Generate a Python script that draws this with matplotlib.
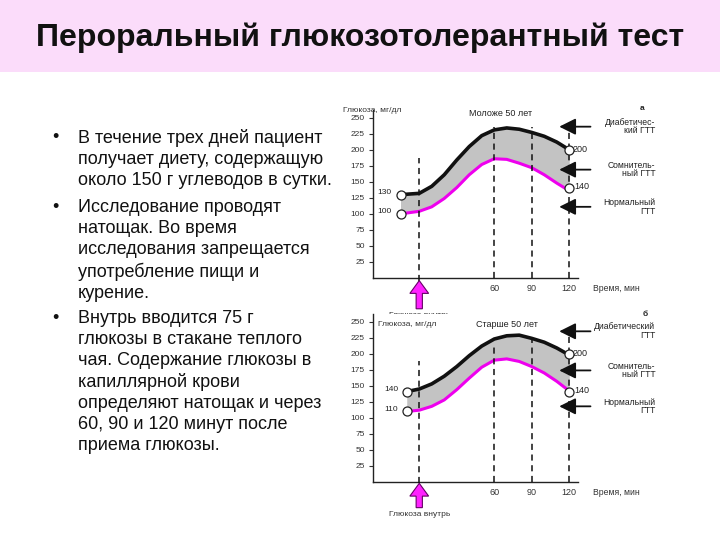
import matplotlib
matplotlib.use("Agg")
import matplotlib.pyplot as plt
from matplotlib.patches import FancyArrow, Rectangle

plt.rcParams['font.family'] = ['Liberation Sans', 'DejaVu Sans']

# ---------------- data ----------------
title = "Пероральный глюкозотолерантный тест"
bullets = [
    "В течение трех дней пациент\nполучает диету, содержащую\nоколо 150 г углеводов в сутки.",
    "Исследование проводят\nнатощак. Во время\nисследования запрещается\nупотребление пищи и\nкурение.",
    "Внутрь вводится 75 г\nглюкозы в стакане теплого\nчая. Содержание глюкозы в\nкапиллярной крови\nопределяют натощак и через\n60, 90 и 120 минут после\nприема глюкозы.",
]

y_ticks = [25, 50, 75, 100, 125, 150, 175, 200, 225, 250]
x_ticks = [60, 90, 120]
x_label = "Время, мин"
y_label = "Глюкоза, мг/дл"
arrow_label = "Глюкоза внутрь"
zone_labels_1 = ["Диабетичес-\nкий ГТТ", "Сомнитель-\nный ГТТ", "Нормальный\nГТТ"]
zone_labels_2 = ["Диабетический\nГТТ", "Сомнитель-\nный ГТТ", "Нормальный\nГТТ"]

# chart 1: younger than 50
title_1 = "Моложе 50 лет"
t1 = [-15, 0, 10, 20, 30, 40, 50, 60, 70, 80, 90, 100, 110, 120]
upper_1 = [130, 132, 143, 161, 184, 205, 222, 231, 234, 232, 227, 221, 212, 200]
lower_1 = [100, 104, 111, 124, 141, 161, 177, 186, 185, 179, 172, 161, 148, 136]
marks_1 = {"start_hi": 130, "start_lo": 100, "end_hi": 200, "end_lo": 140}
zone_y_1 = [236, 169, 111]

# chart 2: older than 50
title_2 = "Старше 50 лет"
t2 = [-10, 0, 10, 20, 30, 40, 50, 60, 70, 80, 90, 100, 110, 120]
upper_2 = [141, 145, 153, 165, 180, 197, 212, 223, 228, 229, 224, 218, 209, 198]
lower_2 = [110, 112, 118, 128, 144, 162, 179, 190, 192, 188, 180, 170, 157, 142]
marks_2 = {"start_hi": 140, "start_lo": 110, "end_hi": 200, "end_lo": 140}
zone_y_2 = [235, 174, 118]

# ---------------- figure ----------------
W, H = 720, 540
fig = plt.figure(figsize=(7.2, 5.4), dpi=100)
fig.patch.set_facecolor("white")

# title band
band = fig.add_axes([0, 1 - 72 / H, 1, 72 / H])
band.set_xlim(0, 1); band.set_ylim(0, 1)
band.add_patch(Rectangle((0, 0), 1, 1, color="#fbdcfa"))
band.axis("off")
band.text(0.5, 0.47, title, ha="center", va="center", fontsize=23,
          fontweight="bold", color="#111111")

# bullets
para_tops = [129, 199, 310]
for txt, top in zip(bullets, para_tops):
    fig.text(52 / W, 1 - top / H, "•", fontsize=13, va="top", ha="left", color="#111111")
    fig.text(78 / W, 1 - top / H, txt, fontsize=13, va="top", ha="left",
             linespacing=1.31, color="#111111")


def px2fig(left, top, right, bottom):
    return [left / W, 1 - bottom / H, (right - left) / W, (bottom - top) / H]


def draw_chart(rect, t, upper, lower, marks, zone_labels, zone_y, ctitle,
               title_xy, ylab_xy, ylab_ha, letter, letter_xy, arrow_top, arrow_bot,
               vtops, label_y):
    ax = fig.add_axes(rect)
    ax.set_facecolor("white")
    ax.set_xlim(-37, 127)
    ax.set_ylim(0, 262)
    for s in ("top", "right"):
        ax.spines[s].set_visible(False)
    for s in ("left", "bottom"):
        ax.spines[s].set_linewidth(1.0)
        ax.spines[s].set_color("#222222")
    ax.set_yticks(y_ticks)
    ax.set_yticklabels([str(v) for v in y_ticks], fontsize=6, color="#333333")
    ax.tick_params(axis="y", length=3, width=0.8, pad=3, color="#333333")
    ax.set_xticks(x_ticks)
    ax.set_xticklabels([str(v) for v in x_ticks], fontsize=6.5, color="#333333")
    ax.tick_params(axis="x", length=0, pad=4)

    # band and curves
    ax.fill_between(t, lower, upper, color="#c3c3c3", lw=0, zorder=1)
    ax.plot(t, upper, color="#111111", lw=2.6, zorder=3, solid_capstyle="round")
    ax.plot(t, lower, color="#ee00ee", lw=2.2, zorder=3, solid_capstyle="round")

    # dashed verticals
    for xv, top in zip([0] + x_ticks, vtops):
        bot = arrow_top if xv == 0 else 0
        ax.plot([xv, xv], [bot, top], color="#111111", lw=1.1, ls=(0, (4, 3)),
                zorder=4, clip_on=False)

    # end markers
    ax.plot([t[0], t[0], t[-1], t[-1]],
            [marks["start_hi"], marks["start_lo"], marks["end_hi"], marks["end_lo"]],
            ls="none", marker="o", ms=6.5, mfc="white", mec="#222222", mew=0.9,
            zorder=5, clip_on=False)
    ax.text(t[0] - 7, marks["start_hi"] + 4, str(marks["start_hi"]), fontsize=6,
            ha="right", va="center", color="#222222")
    ax.text(t[0] - 7, marks["start_lo"] + 3, str(marks["start_lo"]), fontsize=6,
            ha="right", va="center", color="#222222")
    ax.text(t[-1] + 3, marks["end_hi"] + 1, str(marks["end_hi"]), fontsize=6.5,
            ha="left", va="center", color="#222222")
    ax.text(t[-1] + 4, marks["end_lo"] + 2, str(marks["end_lo"]), fontsize=6.5,
            ha="left", va="center", color="#222222")

    # zone arrows and labels
    for lab, yv in zip(zone_labels, zone_y):
        ax.annotate("", xy=(112, yv), xytext=(137, yv), annotation_clip=False,
                    arrowprops=dict(arrowstyle="-|>,head_length=1.0,head_width=0.5",
                                    color="#111111", lw=1.3, shrinkA=0, shrinkB=0))
        ax.text(189, yv, lab, fontsize=6.2, ha="right", va="center",
                linespacing=0.95, color="#222222", multialignment="right")

    ax.text(139, label_y, x_label, fontsize=6.2, ha="left", va="center", color="#333333")
    ax.text(title_xy[0], title_xy[1], ctitle, fontsize=6.5, ha="center", va="center",
            color="#222222")
    ax.text(ylab_xy[0], ylab_xy[1], y_label, fontsize=6, ha=ylab_ha, va="center",
            color="#333333")
    ax.text(letter_xy[0], letter_xy[1], letter, fontsize=6, ha="center", va="center",
            fontweight="bold", color="#222222")

    # glucose arrow
    ax.add_patch(FancyArrow(0, arrow_bot, 0, arrow_top - arrow_bot, width=5,
                            head_width=15, head_length=20, length_includes_head=True,
                            facecolor="#ff22ff", edgecolor="#660066", lw=0.8,
                            clip_on=False, zorder=6))
    ax.text(0, arrow_bot - 10, arrow_label, fontsize=6, ha="center", va="center",
            color="#333333", zorder=0)
    return ax


ax1 = draw_chart(px2fig(373, 110, 578, 278), t1, upper_1, lower_1, marks_1,
                 zone_labels_1, zone_y_1, title_1, (65, 256), (-61, 262), "left",
                 "а", (178, 264), -4, -48, [187, 236, 236, 238], -16)
ax2 = draw_chart(px2fig(373, 314, 578, 482), t2, upper_2, lower_2, marks_2,
                 zone_labels_2, zone_y_2, title_2, (70, 245), (-33, 245), "left",
                 "б", (181, 261), -2, -40, [188, 217, 222, 233], -16)

fig.savefig("out.png", dpi=100)
